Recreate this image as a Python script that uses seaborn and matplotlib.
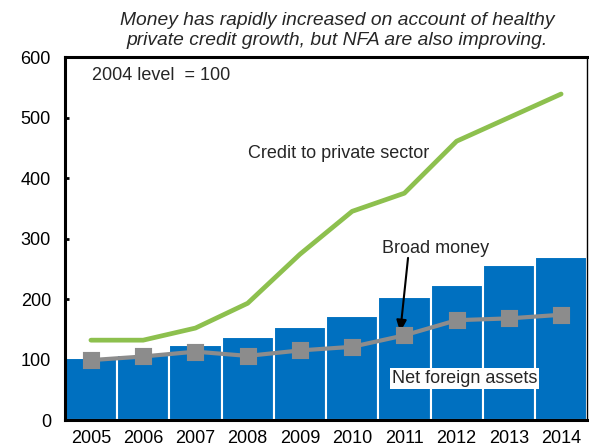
import matplotlib
matplotlib.use("Agg")
import matplotlib.pyplot as plt
import seaborn as sns
import pandas as pd

years = ["2005", "2006", "2007", "2008", "2009", "2010", "2011", "2012", "2013", "2014"]
nfa = [103, 108, 124, 137, 153, 172, 204, 223, 257, 270]
broad_money = [99, 105, 113, 106, 115, 121, 140, 165, 168, 174]
credit = [132, 132, 152, 193, 274, 345, 375, 461, 500, 539]

sns.set_theme(style="white")
plt.rcParams["font.family"] = ["Liberation Sans", "DejaVu Sans"]

df = pd.DataFrame({"year": years, "nfa": nfa, "bm": broad_money, "credit": credit})

fig = plt.figure(figsize=(5.89, 4.48), dpi=100)
ax = fig.add_axes([0.110, 0.0625, 0.887, 0.810])

sns.barplot(data=df, x="year", y="nfa", color="#0070C0", saturation=1,
            width=1.0, edgecolor="white", linewidth=1.5, ax=ax, zorder=1)
sns.pointplot(data=df, x="year", y="credit", color="#8DC04E", markers="",
              linewidth=3.4, ax=ax, zorder=3)
sns.pointplot(data=df, x="year", y="bm", color="#8C8C8C", markers="s",
              linewidth=3.0, markersize=10, ax=ax, zorder=4)

ax.set_ylim(0, 600)
ax.set_xlim(-0.5, 9.5)
ax.set_yticks(range(0, 601, 100))
ax.set_xlabel("")
ax.set_ylabel("")
ax.tick_params(axis="y", direction="in", length=3, width=2, labelsize=13, pad=10, colors="black", left=True)
ax.tick_params(axis="x", length=0, labelsize=13, pad=7, colors="black")
for lbl in ax.get_yticklabels() + ax.get_xticklabels():
    lbl.set_color("black")
for side in ["left", "bottom", "top"]:
    ax.spines[side].set_linewidth(2.2)
    ax.spines[side].set_color("black")
ax.spines["right"].set_linewidth(1.0)
ax.spines["right"].set_color("black")

fig.text(0.573, 0.932, "Money has rapidly increased on account of healthy\nprivate credit growth, but NFA are also improving.",
         ha="center", va="center", fontsize=13.9, style="italic", linespacing=1.22)

ax.text(0.052, 0.948, "2004 level  = 100", transform=ax.transAxes, fontsize=13, va="center", ha="left")
ax.text(3.0, 441, "Credit to private sector", fontsize=13, va="center", ha="left")
ax.text(6.59, 284, "Broad money", fontsize=13, va="center", ha="center")
ax.annotate("", xy=(5.92, 145), xytext=(6.07, 268),
            arrowprops=dict(arrowstyle="-|>,head_width=0.25,head_length=0.6", color="black", lw=1.5,
                            shrinkA=0, shrinkB=0))
ax.text(5.76, 69, "Net foreign assets", fontsize=13, va="center", ha="left",
        bbox=dict(facecolor="white", edgecolor="none", pad=1.5), zorder=5)

fig.savefig("out.png", dpi=100)
